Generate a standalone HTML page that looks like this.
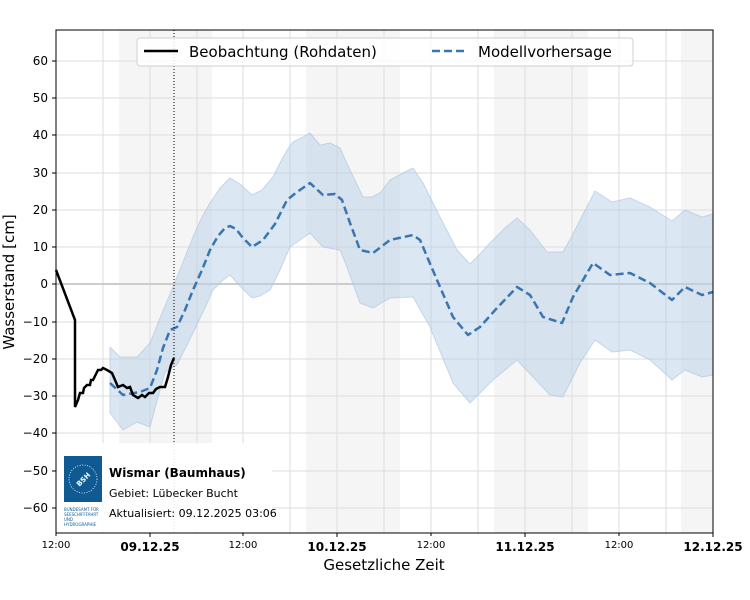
<!DOCTYPE html>
<html><head><meta charset="utf-8"><style>body{margin:0;background:#fff}svg{display:block;font-family:"DejaVu Sans","Liberation Sans",sans-serif}</style></head><body>
<svg width="750" height="600" xmlns="http://www.w3.org/2000/svg">
<rect width="750" height="600" fill="#fff"/>
<g fill="#f5f5f5">
<rect x="119" y="30" width="93" height="413"/><rect x="306" y="30" width="94" height="503"/><rect x="494" y="30" width="94" height="503"/><rect x="681" y="30" width="32" height="503"/>
</g>
<g stroke="#dddddd" stroke-width="1">
<line x1="103" y1="30" x2="103" y2="533"/><line x1="150" y1="30" x2="150" y2="533"/><line x1="197" y1="30" x2="197" y2="533"/><line x1="243" y1="30" x2="243" y2="533"/><line x1="290" y1="30" x2="290" y2="533"/><line x1="337" y1="30" x2="337" y2="533"/><line x1="384" y1="30" x2="384" y2="533"/><line x1="431" y1="30" x2="431" y2="533"/><line x1="478" y1="30" x2="478" y2="533"/><line x1="525" y1="30" x2="525" y2="533"/><line x1="572" y1="30" x2="572" y2="533"/><line x1="619" y1="30" x2="619" y2="533"/><line x1="666" y1="30" x2="666" y2="533"/>
<line x1="56" y1="61" x2="713" y2="61"/><line x1="56" y1="98" x2="713" y2="98"/><line x1="56" y1="135" x2="713" y2="135"/><line x1="56" y1="173" x2="713" y2="173"/><line x1="56" y1="210" x2="713" y2="210"/><line x1="56" y1="247" x2="713" y2="247"/><line x1="56" y1="322" x2="713" y2="322"/><line x1="56" y1="359" x2="713" y2="359"/><line x1="56" y1="396" x2="713" y2="396"/><line x1="56" y1="433" x2="713" y2="433"/><line x1="56" y1="471" x2="713" y2="471"/><line x1="56" y1="508" x2="713" y2="508"/>
</g>
<line x1="56" y1="284" x2="713" y2="284" stroke="#cccccc" stroke-width="2"/>
<path fill="#b8d0e6" fill-opacity="0.5" stroke="#a9c5df" stroke-opacity="0.6" stroke-width="1" stroke-linejoin="round" d="M110,347 L120,357 L137,357 L150,343 L160,318 L173,287 L183,262 L193,237 L202,217 L210,203 L220,188 L230,178 L240,184 L252,195 L262,190 L273,177 L280,163 L287,150 L293,142 L303,137 L310,133 L320,145 L330,143 L340,148 L350,170 L363,197 L372,197 L380,193 L390,180 L405,172 L413,168 L423,183 L440,217 L457,250 L470,264 L480,254 L490,243 L505,228 L517,218 L530,230 L547,252 L563,252 L572,236 L580,220 L595,191 L612,202 L630,198 L650,207 L672,221 L685,210 L702,217 L713,214 L713,375 L702,377 L685,370 L672,380 L650,360 L630,350 L612,352 L595,340 L580,363 L563,397 L550,395 L533,377 L517,360 L493,380 L470,403 L453,383 L430,327 L413,297 L390,298 L373,308 L360,303 L345,262 L340,250 L323,247 L310,233 L300,240 L290,247 L280,270 L270,290 L260,296 L252,298 L241,287 L230,275 L222,281 L213,290 L203,312 L193,333 L185,349 L177,365 L165,372 L160,390 L150,427 L137,422 L123,430 L110,413 Z"/>
<polyline fill="none" stroke="#3a75b0" stroke-width="2.5" stroke-dasharray="8,4" stroke-linejoin="round" points="110,383 123,395 140,392 150,388 157,370 163,348 170,330 177,327 185,310 193,290 202,270 210,250 218,236 225,228 230,226 236,229 243,238 252,247 263,240 275,224 287,200 297,192 310,183 323,195 335,194 342,200 350,223 360,250 373,253 390,240 413,235 420,240 437,280 453,317 468,335 480,327 497,308 517,287 530,295 543,317 562,323 573,297 593,263 610,275 630,273 650,283 672,300 685,287 702,295 713,292"/>
<polyline fill="none" stroke="#000" stroke-width="2.5" points="56,270 75,320 75,407 78,400 80,393 83,393 84,388 87,385 90,385 91,380 93,380 96,374 98,370 101,370 103,368 107,370 112,373 115,380 118,387 123,385 127,388 130,387 133,395 138,398 142,395 145,397 149,393 153,393 156,389 160,387 165,387 168,377 171,365 174,358"/>
<line x1="174" y1="30" x2="174" y2="533" stroke="#000" stroke-width="1" stroke-dasharray="1,2"/>
<rect x="57" y="443" width="215" height="89" fill="#fff" fill-opacity="0.9"/>
<rect x="64" y="456" width="38" height="46" fill="#0f5a92"/>
<circle cx="83" cy="479" r="14" fill="none" stroke="#fff" stroke-width="0.8" stroke-dasharray="1,1.5"/>
<text x="83" y="482" font-size="7" fill="#fff" font-weight="bold" text-anchor="middle" transform="rotate(-45 83 479)">BSH</text>
<text x="64" y="511" font-size="4" fill="#0f5a92">BUNDESAMT FÜR</text>
<text x="64" y="516" font-size="4" fill="#0f5a92">SEESCHIFFFAHRT</text>
<text x="64" y="521" font-size="4" fill="#0f5a92">UND</text>
<text x="64" y="526" font-size="4" fill="#0f5a92">HYDROGRAPHIE</text>
<text x="109" y="477" font-size="12" font-weight="bold">Wismar (Baumhaus)</text>
<text x="109" y="497" font-size="11">Gebiet: Lübecker Bucht</text>
<text x="109" y="517" font-size="11">Aktualisiert: 09.12.2025 03:06</text>
<rect x="137" y="38" width="496" height="28" rx="3" fill="#fff" fill-opacity="0.85" stroke="#d0d0d0"/>
<line x1="144" y1="51" x2="178" y2="51" stroke="#000" stroke-width="2.5"/>
<text x="189" y="57" font-size="15">Beobachtung (Rohdaten)</text>
<line x1="432" y1="51" x2="466" y2="51" stroke="#3a75b0" stroke-width="2.5" stroke-dasharray="8,4"/>
<text x="478" y="57" font-size="15">Modellvorhersage</text>
<rect x="56" y="30" width="657" height="503" fill="none" stroke="#000" stroke-width="1"/>
<g font-size="12" text-anchor="end">
<text x="48" y="65">60</text><text x="48" y="102">50</text><text x="48" y="139">40</text><text x="48" y="177">30</text><text x="48" y="214">20</text><text x="48" y="251">10</text><text x="48" y="288">0</text><text x="48" y="326">−10</text><text x="48" y="363">−20</text><text x="48" y="400">−30</text><text x="48" y="437">−40</text><text x="48" y="475">−50</text><text x="48" y="512">−60</text>
</g>
<g stroke="#000"><line x1="52" y1="61" x2="56" y2="61"/><line x1="52" y1="98" x2="56" y2="98"/><line x1="52" y1="135" x2="56" y2="135"/><line x1="52" y1="173" x2="56" y2="173"/><line x1="52" y1="210" x2="56" y2="210"/><line x1="52" y1="247" x2="56" y2="247"/><line x1="52" y1="284" x2="56" y2="284"/><line x1="52" y1="322" x2="56" y2="322"/><line x1="52" y1="359" x2="56" y2="359"/><line x1="52" y1="396" x2="56" y2="396"/><line x1="52" y1="433" x2="56" y2="433"/><line x1="52" y1="471" x2="56" y2="471"/><line x1="52" y1="508" x2="56" y2="508"/>
<line x1="150" y1="533" x2="150" y2="537"/><line x1="337" y1="533" x2="337" y2="537"/><line x1="525" y1="533" x2="525" y2="537"/><line x1="713" y1="533" x2="713" y2="537"/><line x1="56" y1="533" x2="56" y2="536"/><line x1="243" y1="533" x2="243" y2="536"/><line x1="431" y1="533" x2="431" y2="536"/><line x1="619" y1="533" x2="619" y2="536"/></g>
<g font-size="10" text-anchor="middle">
<text x="56" y="548">12:00</text><text x="243" y="548">12:00</text><text x="431" y="548">12:00</text><text x="619" y="548">12:00</text>
</g>
<g font-size="12" font-weight="bold" text-anchor="middle">
<text x="150" y="551">09.12.25</text><text x="337" y="551">10.12.25</text><text x="525" y="551">11.12.25</text><text x="713" y="551">12.12.25</text>
</g>
<text x="384" y="570" font-size="15" text-anchor="middle">Gesetzliche Zeit</text>
<text x="0" y="0" font-size="15" text-anchor="middle" transform="translate(14 282) rotate(-90)">Wasserstand [cm]</text>
</svg>
</body></html>
